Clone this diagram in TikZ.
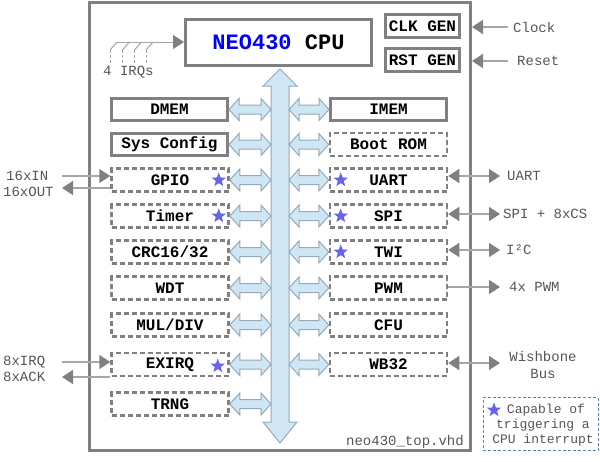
\documentclass[tikz,border=0pt]{standalone}
\usepackage{fontspec}
\setmonofont{Liberation Mono}
\usetikzlibrary{arrows.meta,shapes.geometric,calc}
\definecolor{boxgray}{RGB}{128,128,128}
\definecolor{linegray}{RGB}{166,166,166}
\definecolor{busfill}{RGB}{207,230,245}
\definecolor{busdraw}{RGB}{150,168,185}
\definecolor{starcol}{RGB}{100,100,238}
\definecolor{neoblue}{RGB}{0,0,255}
\definecolor{legblue}{RGB}{96,128,192}
\definecolor{txtgray}{RGB}{85,85,85}
\newcommand\dblarr[2]{%
  \draw[busarrow] (#1) -- ($(#1)+(10,-11)$) -- ($(#1)+(10,-4.5)$) -- ($(#2)+(-10,-4.5)$) -- ($(#2)+(-10,-11)$) -- (#2)
    -- ($(#2)+(-10,11)$) -- ($(#2)+(-10,4.5)$) -- ($(#1)+(10,4.5)$) -- ($(#1)+(10,11)$) -- cycle;}
\begin{document}
\begin{tikzpicture}[x=1pt,y=-1pt,
  solidbox/.style={draw=boxgray, line width=3pt, fill=white, minimum width=116pt, minimum height=22pt, inner sep=0pt,
    font=\ttfamily\bfseries\fontsize{16}{16}\selectfont},
  dashbox/.style={solidbox, line width=2.5pt, dash pattern=on 5pt off 3pt, minimum width=117pt, minimum height=23pt},
  busarrow/.style={fill=busfill, draw=busdraw, line width=1pt},
  tip/.style={Triangle[length=11pt,width=14pt,color=boxgray]},
  ext/.style={draw=linegray, line width=1.5pt, -{Triangle[length=11pt,width=14pt,color=boxgray]}},
  extd/.style={draw=linegray, line width=1.5pt, {Triangle[length=11pt,width=14pt,color=boxgray]}-{Triangle[length=11pt,width=14pt,color=boxgray]}},
  lbl/.style={text=txtgray, inner sep=0pt, font=\ttfamily\fontsize{14}{14}\selectfont},
  starmark/.style={star, star points=5, star point ratio=2.4, fill=starcol, minimum size=15pt, inner sep=0pt},
]
\useasboundingbox (0,0) rectangle (600,461);
% outer box
\node[draw=boxgray, line width=3pt, minimum width=381pt, minimum height=448pt, inner sep=0pt] (outer) at (280,226.5) {};
\node[lbl, anchor=east] (vhd) at (464,442) {neo430\_top.vhd};
% bus
\fill[busarrow] (280,69) -- (297,86) -- (289,86) -- (289,422) -- (297,422) -- (280,443) -- (263,422) -- (271,422)
  -- (271,86) -- (263,86) -- cycle;
\coordinate (busL) at (271,0);
\coordinate (busR) at (289,0);
% CPU and generators
\node[solidbox, minimum width=186pt, minimum height=46pt, font=\ttfamily\bfseries\fontsize{22}{22}\selectfont] (cpu) at (278.5,42.5) {\textcolor{neoblue}{NEO430} CPU};
\node[solidbox, minimum width=74pt, minimum height=23pt] (clk) at (422.5,26) {CLK GEN};
\node[solidbox, minimum width=74pt, minimum height=23pt] (rst) at (422.5,60) {RST GEN};
% left column
\node[solidbox] (dmem) at (169.5,109.5) {DMEM};
\node[solidbox] (sys) at (169.5,144.5) {Sys Config};
\node[dashbox] (gpio) at (170,180) {GPIO};
\node[dashbox] (timer) at (170,216) {Timer};
\node[dashbox] (crc) at (170,252) {CRC16/32};
\node[dashbox] (wdt) at (170,288) {WDT};
\node[dashbox] (mul) at (170,325) {MUL/DIV};
\node[dashbox] (exirq) at (170,364.5) {EXIRQ};
\node[dashbox] (trng) at (170,404) {TRNG};
% right column
\node[solidbox] (imem) at (388.5,109.5) {IMEM};
\node[dashbox] (boot) at (388.5,144.5) {Boot ROM};
\node[dashbox] (uart) at (388.5,180) {UART};
\node[dashbox] (spi) at (388.5,216) {SPI};
\node[dashbox] (twi) at (388.5,252) {TWI};
\node[dashbox] (pwm) at (388.5,288) {PWM};
\node[dashbox] (cfu) at (388.5,325) {CFU};
\node[dashbox] (wb) at (388.5,364.5) {WB32};
% bus connections
\foreach \n in {dmem,sys,gpio,timer,crc,wdt,mul,exirq,trng}{
  \coordinate (a) at (\n.east); \coordinate (b) at (busL |- \n.east);
  \dblarr{a}{b}}
\foreach \n in {imem,boot,uart,spi,twi,pwm,cfu,wb}{
  \coordinate (a) at (busR |- \n.west); \coordinate (b) at (\n.west);
  \dblarr{a}{b}}
% stars
\node[starmark] (s1) at ($(gpio.east)+(-11,0)$) {};
\node[starmark] (s2) at ($(timer.east)+(-11,0)$) {};
\node[starmark] (s3) at ($(exirq.east)+(-12,1.5)$) {};
\node[starmark] (s4) at ($(uart.west)+(12,0)$) {};
\node[starmark] (s5) at ($(spi.west)+(12,0)$) {};
\node[starmark] (s6) at ($(twi.west)+(12,0)$) {};
% clock / reset
\node[lbl, anchor=west] (clock) at (513,27) {Clock};
\node[lbl, anchor=west] (reset) at (517,61) {Reset};
\coordinate (clkT) at (508,27);
\coordinate (rstT) at (508,61);
\draw[ext] (clkT) -- (clkT -| outer.east);
\draw[ext] (rstT) -- (rstT -| outer.east);
% 4 IRQs
\coordinate (irqA) at (117,42);
\draw[ext, line width=1pt] (irqA) -- (irqA -| cpu.west);
\foreach \x in {117,129.5,141.5,153}{
  \draw[linegray, line width=1pt] (\x,42) -- (\x-7,50);
  \draw[linegray, line width=1pt, dash pattern=on 3pt off 2pt] (\x-7,50) -- (\x-7,64);}
\node[lbl, anchor=west] (irqs) at (103,72) {4 IRQs};
% GPIO external
\node[lbl, anchor=west] (in16) at (6,175.5) {16xIN};
\node[lbl, anchor=west] (out16) at (3,192) {16xOUT};
\coordinate (inT) at (62,176);
\coordinate (outT) at (62,188);
\draw[ext] (inT) -- (inT -| gpio.west);
\draw[ext] (outT -| gpio.west) -- (outT);
% EXIRQ external
\node[lbl, anchor=west] (irq8) at (3,362) {8xIRQ};
\node[lbl, anchor=west] (ack8) at (3,377) {8xACK};
\coordinate (irqT) at (62,362);
\coordinate (ackT) at (62,377);
\draw[ext] (irqT) -- (irqT -| exirq.west);
\draw[ext] (ackT -| exirq.west) -- (ackT);
% right externals
\coordinate (uartT) at (500,176);
\coordinate (spiT) at (500,214);
\coordinate (twiT) at (500,250);
\coordinate (pwmT) at (500,287);
\coordinate (wbT) at (500,363);
\draw[extd] (uartT -| uart.east) -- (uartT);
\draw[extd] (spiT -| spi.east) -- (spiT);
\draw[extd] (twiT -| twi.east) -- (twiT);
\draw[ext] (pwmT -| pwm.east) -- (pwmT);
\draw[extd] (wbT -| wb.east) -- (wbT);
\node[lbl, anchor=west] (uartL) at (507,176) {UART};
\node[lbl, anchor=west] (spiL) at (503,214) {SPI + 8xCS};
\node[lbl, anchor=west] (twiL) at (506,250) {I²C};
\node[lbl, anchor=west] (pwmL) at (509,287) {4x PWM};
\node[lbl, align=center] (wbL) at (543,364.5) {Wishbone\\[3pt]Bus};
% legend
\node[draw=legblue, line width=1pt, dash pattern=on 3pt off 2pt, minimum width=115pt, minimum height=53pt, inner sep=0pt] (legend) at (540.5,424) {};
\node[starmark] (ls) at (494,410) {};
\node[lbl, font=\ttfamily\fontsize{13}{13}\selectfont, align=center] (legT) at (543,425) {\hspace*{6pt}Capable of\\[2pt]triggering a\\[2pt]CPU interrupt};
\end{tikzpicture}
\end{document}
